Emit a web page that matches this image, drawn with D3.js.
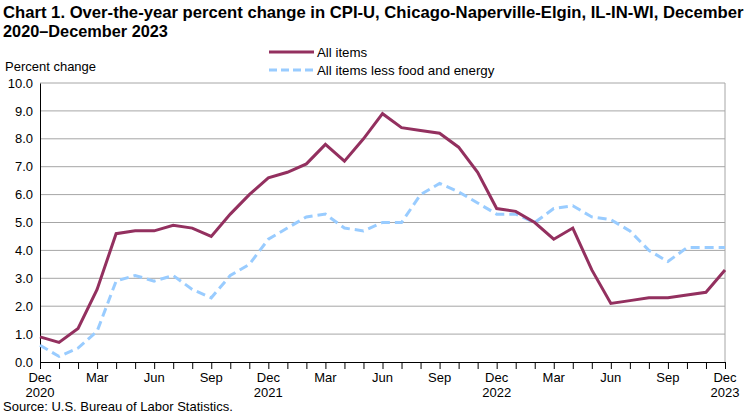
<!DOCTYPE html>
<html>
<head>
<meta charset="utf-8">
<script src="https://cdn.jsdelivr.net/npm/d3@7"></script>
<style>
  body { margin: 0; background: #fff; }
  svg { display: block; }
</style>
</head>
<body>
<svg id="chart" width="751" height="420"></svg>
<script>
// months Dec 2020 .. Dec 2023
const months = d3.range(37);
const monthNames = ['Dec','Jan','Feb','Mar','Apr','May','Jun','Jul','Aug','Sep','Oct','Nov'];
const yearLabels = { 0: '2020', 12: '2021', 24: '2022', 36: '2023' };

const allItems = [0.9, 0.7, 1.2, 2.6, 4.6, 4.7, 4.7, 4.9, 4.8, 4.5, 5.3, 6.0,
  6.6, 6.8, 7.1, 7.8, 7.2, 8.0, 8.9, 8.4, 8.3, 8.2, 7.7, 6.8,
  5.5, 5.4, 5.0, 4.4, 4.8, 3.3, 2.1, 2.2, 2.3, 2.3, 2.4, 2.5, 3.3];
const lessFoodEnergy = [0.6, 0.2, 0.5, 1.1, 2.9, 3.1, 2.9, 3.1, 2.6, 2.3, 3.1, 3.5,
  4.4, 4.8, 5.2, 5.3, 4.8, 4.7, 5.0, 5.0, 6.0, 6.4, 6.1, 5.7,
  5.3, 5.3, 5.0, 5.5, 5.6, 5.2, 5.1, 4.7, 4.0, 3.6, 4.1, 4.1, 4.1];
const yTicks = d3.range(0, 10.01, 1);

const svg = d3.select('#chart');
const m = { left: 40, right: 26, top: 83, bottom: 58 };
const width = 751, height = 420;

const x = d3.scaleLinear().domain([0, 36]).range([m.left, width - m.right]);
const y = d3.scaleLinear().domain([0, 10]).range([height - m.bottom, m.top]);

const font = "'Liberation Sans', Arial, sans-serif";

// title, shrunk to fit the width
const titleLines = [
  { text: 'Chart 1. Over-the-year percent change in  CPI-U, Chicago-Naperville-Elgin,  IL-IN-WI, December', y: 18, w: 741 },
  { text: '2020\u2013December  2023', y: 37, w: 165 }
];
titleLines.forEach(t => {
  const el = svg.append('text')
    .attr('x', 3).attr('y', t.y)
    .attr('font-family', font)
    .attr('font-weight', 'bold')
    .attr('font-size', 17)
    .attr('fill', '#000')
    .text(t.text);
  const len = el.node().getComputedTextLength();
  el.attr('font-size', 17 * t.w / len);
});

// gridlines
svg.append('g')
  .selectAll('line')
  .data(yTicks.filter(d => d > 0))
  .join('line')
  .attr('x1', x(0)).attr('x2', x(36))
  .attr('y1', d => y(d)).attr('y2', d => y(d))
  .attr('stroke', '#a6a6a6').attr('stroke-width', 1);

// right border
svg.append('line')
  .attr('x1', x(36)).attr('x2', x(36))
  .attr('y1', y(10)).attr('y2', y(0))
  .attr('stroke', '#a6a6a6');

// y axis
const yAxis = svg.append('g')
  .attr('transform', `translate(${x(0)},0)`)
  .call(d3.axisLeft(y).tickValues(yTicks).tickFormat(d3.format('.1f')).tickSize(0).tickPadding(7));
yAxis.select('.domain').attr('stroke', '#000');
yAxis.selectAll('text').attr('font-family', font).attr('font-size', 13).attr('fill', '#000');

// x axis
const xAxis = svg.append('g')
  .attr('transform', `translate(0,${y(0)})`)
  .call(d3.axisBottom(x).tickValues(months).tickSize(7).tickFormat(''));
xAxis.select('.domain').attr('stroke', '#000');
xAxis.selectAll('.tick line').attr('stroke', '#000');

const labelTicks = months.filter(d => d % 3 === 0);
const xl = svg.append('g').attr('font-family', font).attr('font-size', 13).attr('fill', '#000')
  .attr('text-anchor', 'middle');
xl.selectAll('text.mon')
  .data(labelTicks)
  .join('text')
  .attr('class', 'mon')
  .attr('x', d => x(d)).attr('y', y(0) + 20)
  .text(d => monthNames[d % 12]);
xl.selectAll('text.yr')
  .data(Object.keys(yearLabels).map(Number))
  .join('text')
  .attr('class', 'yr')
  .attr('x', d => x(d)).attr('y', y(0) + 35)
  .text(d => yearLabels[d]);

// lines
const line = d3.line().x((d, i) => x(i)).y(d => y(d));
svg.append('path')
  .datum(lessFoodEnergy)
  .attr('fill', 'none')
  .attr('stroke', '#99ccff')
  .attr('stroke-width', 3)
  .attr('stroke-dasharray', '9,5')
  .attr('d', line);
svg.append('path')
  .datum(allItems)
  .attr('fill', 'none')
  .attr('stroke', '#93305f')
  .attr('stroke-width', 3)
  .attr('d', line);

// y label
svg.append('text')
  .attr('x', 5).attr('y', 71)
  .attr('font-family', font).attr('font-size', 13)
  .text('Percent change');

// legend
const legend = svg.append('g').attr('font-family', font).attr('font-size', 13.3);
const legendItems = [
  { label: 'All items', color: '#93305f', dash: null, y: 52 },
  { label: 'All items less food and energy', color: '#99ccff', dash: '8,4', y: 70 }
];
legendItems.forEach(d => {
  legend.append('line')
    .attr('x1', 269).attr('x2', 314)
    .attr('y1', d.y).attr('y2', d.y)
    .attr('stroke', d.color).attr('stroke-width', 3)
    .attr('stroke-dasharray', d.dash);
  legend.append('text')
    .attr('x', 317).attr('y', d.y + 5)
    .text(d.label);
});

// source
svg.append('text')
  .attr('x', 3).attr('y', 411)
  .attr('font-family', font).attr('font-size', 13)
  .text('Source: U.S. Bureau  of Labor Statistics.');
</script>
</body>
</html>
